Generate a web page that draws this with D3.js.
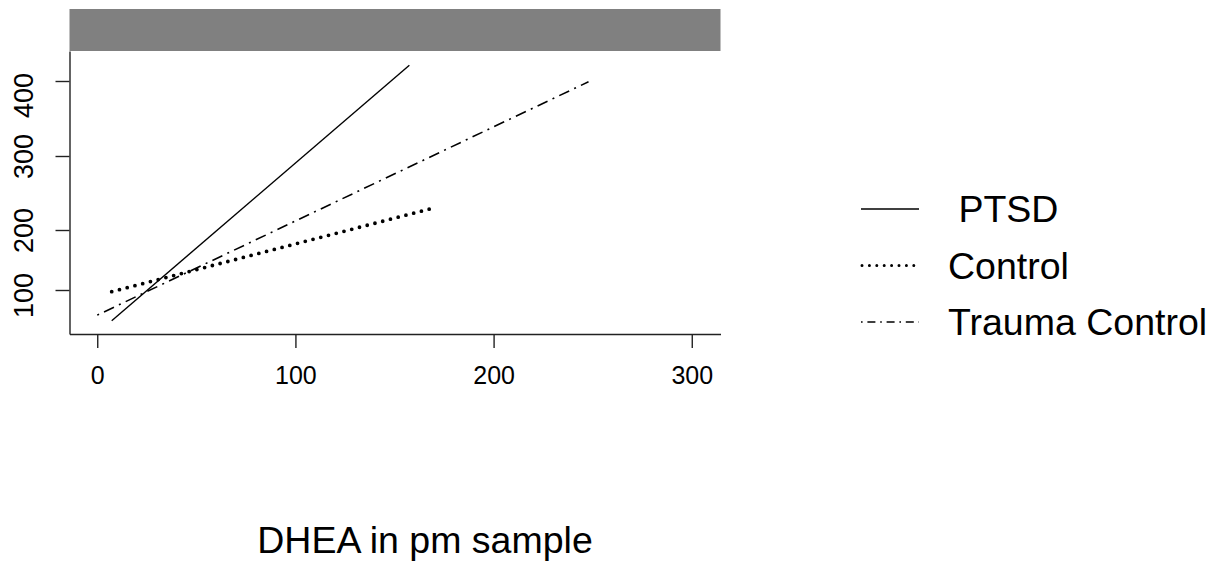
<!DOCTYPE html>
<html lang="en">
<head>
    <meta charset="UTF-8">
    <title>DHEA in pm sample</title>
    <script src="https://d3js.org/d3.v7.min.js"></script>
    <style>
        body{
            margin: 0;
            background-color: white;
        }
        text{
            font-family: "Liberation Sans", Arial, sans-serif;
            fill: black;
        }
        .axis path, .axis line{
            stroke: #222;
            stroke-width: 1.4px;
        }
        .axis text{
            font-size: 25px;
        }
    </style>
</head>
<body>
    <svg id='canvas' width='1232' height='562'></svg>
    <script>
        // group names and line ends
        let groups = [' PTSD', 'Control', 'Trauma Control'];
        let xStart = [7.3, 7.3, 0];
        let xEnd = [157.5, 169.1, 247.9];
        let yStart = [49, 97.2, 58.3];
        let yEnd = [421, 229.3, 399];
        let xTicks = [0, 100, 200, 300];
        let yTicks = [100, 200, 300, 400];

        let svg = d3.select('svg');

        let x = d3.scaleLinear()
            .domain([-14, 314.5])
            .range([69.5, 720.5]);
        // the y axis of the picture is not evenly spaced
        let y = d3.scaleLinear()
            .domain([27, 100, 200, 300, 400, 440])
            .range([334, 290, 230, 156, 81, 51]);

        // line styles, R like: solid, dotted, dotdash
        let dashes = ['none', '0 8', '2 5.5 11 5.5'];
        let widths = [1.4, 3.8, 1.6];
        let caps = ['butt', 'round', 'butt'];

        // grey strip on top
        svg.append('rect')
            .attr('x', x.range()[0])
            .attr('y', 9)
            .attr('width', x.range()[1] - x.range()[0])
            .attr('height', y.range()[5] - 9)
            .attr('fill', '#808080');

        let xAxis = svg.append('g')
            .attr('class', 'axis')
            .attr('transform', 'translate(0,' + y.range()[0] + ')')
            .call(d3.axisBottom(x).tickValues(xTicks).tickSize(14).tickSizeOuter(0).tickPadding(18));

        let yAxis = svg.append('g')
            .attr('class', 'axis')
            .attr('transform', 'translate(' + x.range()[0] + ',0)')
            .call(d3.axisLeft(y).tickValues(yTicks).tickSize(14).tickSizeOuter(0));

        yAxis.selectAll('.tick text')
            .attr('x', 0)
            .attr('y', 0)
            .attr('dy', 0)
            .attr('text-anchor', 'middle')
            .style('font-size', '27px')
            .attr('transform', (d) => 'translate(-36.5,' + (d == 400 ? 14 : (d == 100 ? 5 : 0)) + ') rotate(-90)');

        let line = d3.line()
            .x(d => x(d[0]))
            .y(d => y(d[1]));

        svg.append('g')
            .selectAll('path')
            .data(groups)
            .enter()
            .append('path')
            .attr('d', (d, i) => line([[xStart[i], yStart[i]], [xEnd[i], yEnd[i]]]))
            .attr('fill', 'none')
            .attr('stroke', 'black')
            .attr('stroke-width', (d, i) => widths[i])
            .attr('stroke-linecap', (d, i) => caps[i])
            .attr('stroke-dasharray', (d, i) => dashes[i]);

        // legend
        let legend = svg.append('g')
            .selectAll('g')
            .data(groups)
            .enter()
            .append('g')
            .attr('transform', (d, i) => 'translate(0,' + (209 + i * 56.5) + ')');

        legend.append('line')
            .attr('x1', (d, i) => i == 1 ? 862 : 861)
            .attr('x2', (d, i) => i == 1 ? 914 : 919)
            .attr('y1', 0)
            .attr('y2', 0)
            .attr('stroke', 'black')
            .attr('stroke-width', (d, i) => i == 1 ? 3 : 1.4)
            .attr('stroke-linecap', (d, i) => caps[i])
            .attr('stroke-dasharray', (d, i) => i == 1 ? '0 7.4' : (i == 2 ? '1.6 4.8 8 4.8' : 'none'));

        legend.append('text')
            .attr('x', 948)
            .attr('y', 0)
            .attr('dy', '0.35em')
            .style('font-size', '37.5px')
            .style('white-space', 'pre')
            .text(d => d);

        // axis title
        svg.append('text')
            .attr('x', 425)
            .attr('y', 553)
            .attr('text-anchor', 'middle')
            .style('font-size', '37.5px')
            .text('DHEA in pm sample');
    </script>
</body>
</html>
